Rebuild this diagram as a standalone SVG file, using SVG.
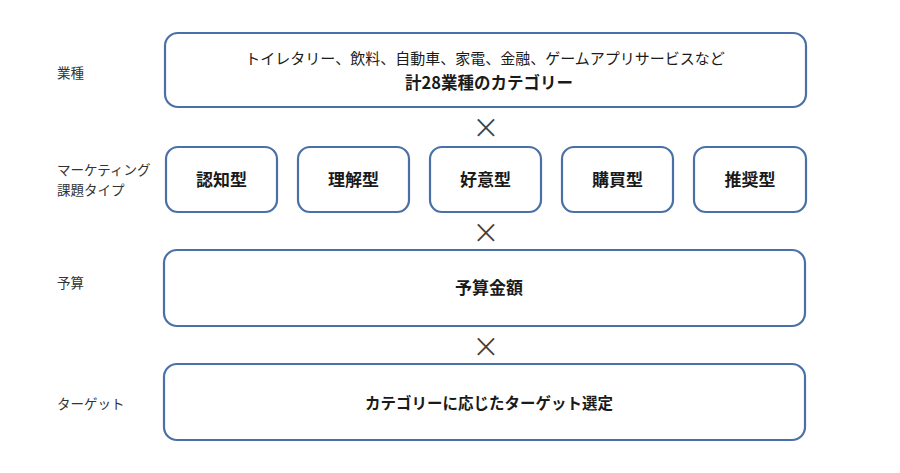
<svg xmlns="http://www.w3.org/2000/svg" width="900" height="473" viewBox="0 0 900 473">
<style>
.box{fill:#ffffff;stroke:#4a70a8;stroke-width:2.2}
.t{font-family:"Noto Sans CJK JP","Noto Sans",sans-serif;fill:#1a1a1a;text-anchor:middle}
.b{font-weight:bold;font-size:17px}
.r{font-size:15px}
.lab{font-family:"Noto Sans CJK JP","Noto Sans",sans-serif;fill:#333333;font-size:13.5px}
.x{font-family:"Open Sans","Liberation Sans",sans-serif;font-weight:300;fill:#404040;font-size:40px;text-anchor:middle}
</style>
<rect width="900" height="473" fill="#ffffff"/>
<g id="labels">
<text class="lab" x="57" y="78">業種</text>
<text class="lab" x="57" y="175">マーケティング</text>
<text class="lab" x="57" y="195">課題タイプ</text>
<text class="lab" x="57" y="288">予算</text>
<text class="lab" x="57" y="409">ターゲット</text>
</g>
<g id="node-industry">
<rect class="box" x="165" y="33" width="641" height="74" rx="13"/>
<text class="t r" x="485" y="64">トイレタリー、飲料、自動車、家電、金融、ゲームアプリサービスなど</text>
<text class="t b" x="489" y="89" style="font-size:16.5px">計28業種のカテゴリー</text>
</g>
<g id="node-awareness">
<rect class="box" x="166" y="147" width="111" height="65" rx="12"/>
<text class="t b" x="221.5" y="186">認知型</text>
</g>
<g id="node-understanding">
<rect class="box" x="298" y="147" width="111" height="65" rx="12"/>
<text class="t b" x="353.5" y="186">理解型</text>
</g>
<g id="node-favorability">
<rect class="box" x="430" y="147" width="111" height="65" rx="12"/>
<text class="t b" x="485.5" y="186">好意型</text>
</g>
<g id="node-purchase">
<rect class="box" x="562" y="147" width="111" height="65" rx="12"/>
<text class="t b" x="617.5" y="186">購買型</text>
</g>
<g id="node-recommend">
<rect class="box" x="694" y="147" width="112" height="65" rx="12"/>
<text class="t b" x="750" y="186">推奨型</text>
</g>
<g id="node-budget">
<rect class="box" x="164" y="250" width="641" height="76" rx="13"/>
<text class="t b" x="489" y="294">予算金額</text>
</g>
<g id="node-target">
<rect class="box" x="164" y="364" width="641" height="76" rx="13"/>
<text class="t b" x="489" y="409" style="font-size:15.5px">カテゴリーに応じたターゲット選定</text>
</g>
<g id="connectors">
<text class="x" x="486" y="142">×</text>
<text class="x" x="486" y="247">×</text>
<text class="x" x="486" y="361">×</text>
</g>
</svg>
